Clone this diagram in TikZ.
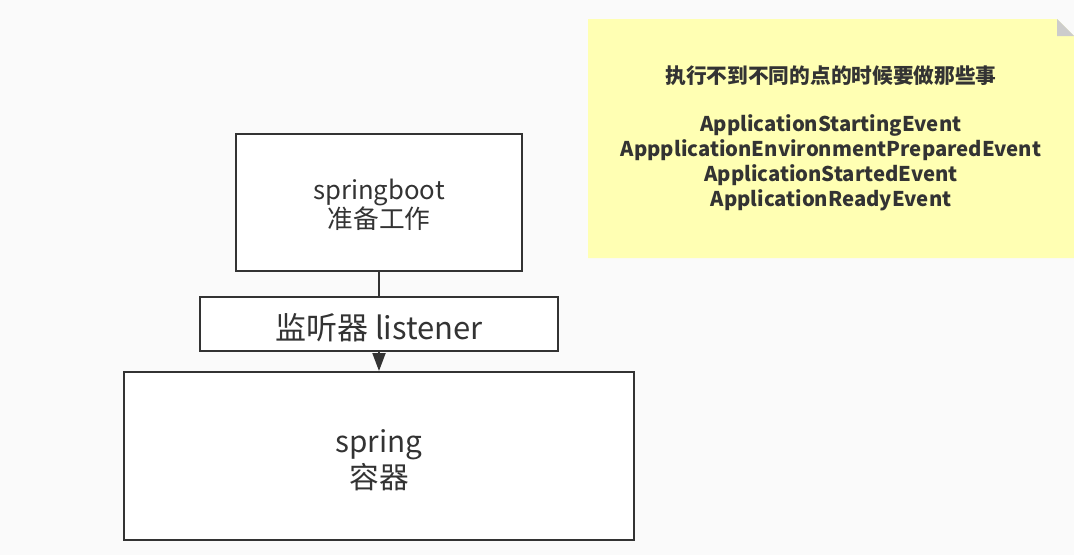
\documentclass[tikz,border=0pt]{standalone}
\usepackage{fontspec}
\setmainfont{Noto Sans CJK SC}
\newfontfamily\cjk{Noto Sans CJK SC}
\usetikzlibrary{arrows.meta}
\definecolor{bgc}{HTML}{FAFAFA}
\definecolor{ink}{HTML}{333333}
\definecolor{notec}{HTML}{FFFFB3}
\definecolor{foldc}{HTML}{CCCCCC}
\tikzset{
  boxc/.style={draw=ink, line width=2pt, fill=white, text=ink, align=center, inner sep=0pt},
  conn/.style={draw=ink, line width=2pt},
}
\begin{document}
\begin{tikzpicture}[x=1pt,y=-1pt]
\fill[bgc] (0,0) rectangle (1074,555);
\useasboundingbox (0,0) rectangle (1074,555);
% note
\fill[notec] (588,19) -- (1057,19) -- (1074,36) -- (1074,258) -- (588,258) -- cycle;
\fill[foldc] (1057,19) -- (1057,36) -- (1074,36) -- cycle;
\node[text=ink, align=center, font=\cjk\bfseries\fontsize{20.7}{24}\selectfont] (title) at (831,76) {执行不到不同的点的时候要做那些事};
\node[text=ink, align=center, font=\cjk\bfseries\fontsize{20.3}{25}\selectfont] (events) at (831,163) {ApplicationStartingEvent\\AppplicationEnvironmentPreparedEvent\\ApplicationStartedEvent\\ApplicationReadyEvent};
% boxes
\node[boxc, minimum width=286pt, minimum height=137pt] (boot) at (379,202.5) {};
\node[text=ink, align=center, font=\fontsize{25.7}{29}\selectfont] (boottxt) at (379,205) {springboot\\准备工作};
\node[boxc, minimum width=358pt, minimum height=54pt] (lis) at (379,324) {};
\node[text=ink, font=\fontsize{31}{34}\selectfont] (listxt) at (379,328) {监听器 listener};
\node[boxc, minimum width=510pt, minimum height=168pt] (spr) at (379,456) {};
\node[text=ink, align=center, font=\fontsize{29.7}{36.5}\selectfont] (sprtxt) at (379,460) {spring\\容器};
\draw[conn] (boot.south) -- (lis.north);
\draw[conn, -{Triangle[length=18pt,width=13pt]}] (lis.south) -- (spr.north);
\end{tikzpicture}
\end{document}
